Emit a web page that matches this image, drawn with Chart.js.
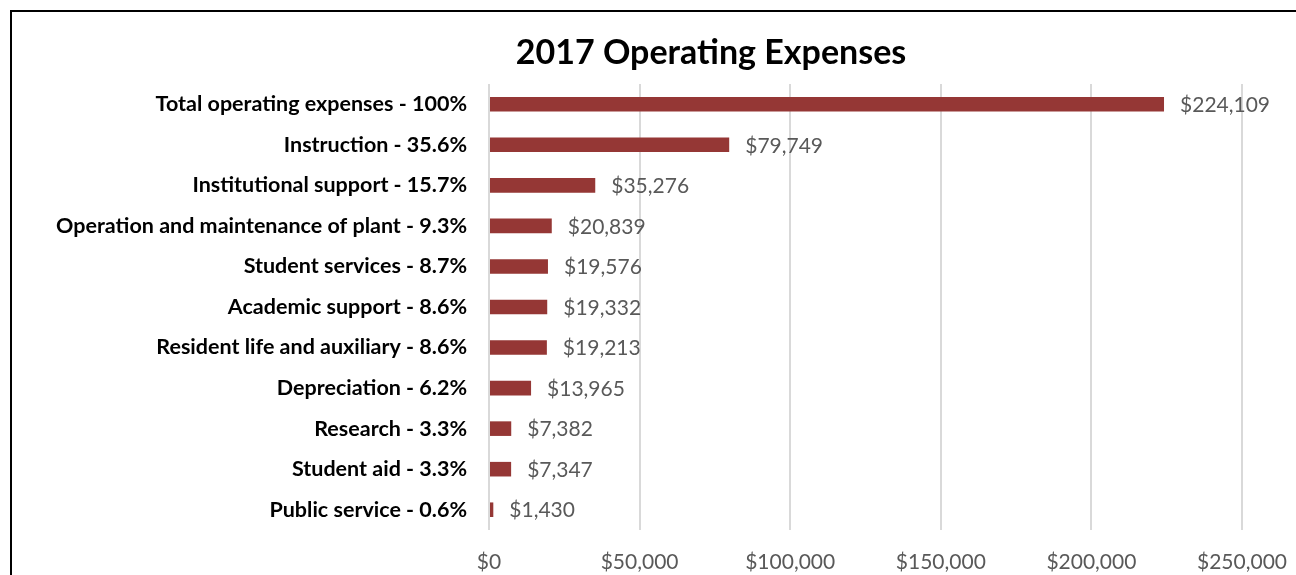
<!DOCTYPE html>
<html>
<head>
<meta charset="utf-8">
<script src="https://cdn.jsdelivr.net/npm/chart.js@4/dist/chart.umd.min.js"></script>
<style>
  html, body { margin: 0; padding: 0; background: #fff; overflow: hidden; }
  #wrap { position: relative; width: 1296px; height: 575px; }
  #frame { position: absolute; left: 10px; top: 10px; width: 1400px; height: 700px;
           border-left: 2px solid #000; border-top: 2px solid #000; box-sizing: border-box; }
  canvas { position: absolute; left: 0; top: 0; }
</style>
</head>
<body>
<div id="wrap">
  <div id="frame"></div>
  <canvas id="c" width="1296" height="575"></canvas>
</div>
<script>
const categories = [
  "Total operating expenses - 100%",
  "Instruction - 35.6%",
  "Institutional support - 15.7%",
  "Operation and maintenance of plant - 9.3%",
  "Student services - 8.7%",
  "Academic support - 8.6%",
  "Resident life and auxiliary - 8.6%",
  "Depreciation - 6.2%",
  "Research - 3.3%",
  "Student aid - 3.3%",
  "Public service - 0.6%"
];
const expenses = [224109, 79749, 35276, 20839, 19576, 19332, 19213, 13965, 7382, 7347, 1430];
const xTicks = [0, 50000, 100000, 150000, 200000, 250000];
const titleText = "2017 Operating Expenses";

const FONT = "Lato, 'Open Sans', sans-serif";
const fmt = v => "$" + v.toLocaleString("en-US");

const valueLabels = {
  id: "valueLabels",
  afterDatasetsDraw(chart) {
    const ctx = chart.ctx;
    const meta = chart.getDatasetMeta(0);
    ctx.save();
    ctx.font = "21px " + FONT;
    ctx.fillStyle = "#595959";
    ctx.textAlign = "left";
    ctx.textBaseline = "middle";
    meta.data.forEach((bar, i) => {
      ctx.fillText(fmt(chart.data.datasets[0].data[i]), bar.x + 16, bar.y + 1);
    });
    ctx.restore();
  }
};

const chartTitle = {
  id: "chartTitle",
  afterDraw(chart) {
    const ctx = chart.ctx;
    ctx.save();
    ctx.font = "bold 34px " + FONT;
    ctx.fillStyle = "#000";
    ctx.textAlign = "center";
    ctx.textBaseline = "middle";
    ctx.fillText(titleText, chart.width / 2 + 63, 53);
    ctx.restore();
  }
};

new Chart(document.getElementById("c"), {
  type: "bar",
  data: {
    labels: categories,
    datasets: [{
      data: expenses,
      backgroundColor: "#953735",
      borderWidth: 0,
      barPercentage: 0.9,
      categoryPercentage: 0.4
    }]
  },
  options: {
    indexAxis: "y",
    responsive: false,
    animation: false,
    layout: { padding: { top: 84, right: 54, bottom: 0, left: 0 } },
    plugins: {
      legend: { display: false },
      tooltip: { enabled: false },
      title: { display: false }
    },
    scales: {
      x: {
        min: 0,
        max: 250000,
        afterBuildTicks: s => { s.ticks = xTicks.map(v => ({ value: v })); },
        afterFit: s => { s.height = 45; s.paddingRight = 0; s.paddingLeft = 0; },
        grid: { color: "#d9d9d9", lineWidth: 2, drawTicks: false },
        border: { display: false },
        ticks: {
          color: "#595959",
          font: { family: FONT, size: 21 },
          padding: 20,
          maxRotation: 0,
          callback: v => fmt(v)
        }
      },
      y: {
        afterFit: s => { s.width = 489; },
        grid: { display: false, drawTicks: false },
        border: { display: false },
        ticks: {
          color: "#000",
          font: { family: FONT, size: 21.5, weight: "bold" },
          padding: 22
        }
      }
    }
  },
  plugins: [valueLabels, chartTitle]
});
</script>
</body>
</html>
